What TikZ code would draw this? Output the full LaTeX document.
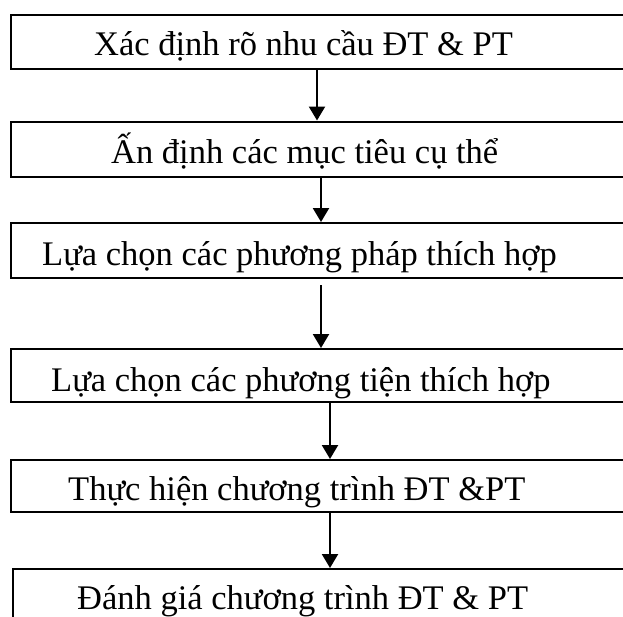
\documentclass[tikz,border=0pt]{standalone}
\usepackage{fontspec}
\setmainfont{Liberation Serif}
\usetikzlibrary{arrows.meta}
\begin{document}
\begin{tikzpicture}[x=1pt,y=-1pt,
  stepbox/.style={draw=black,line width=2pt,rectangle,inner sep=0pt,anchor=north west,minimum width=640pt},
  label/.style={anchor=base west,inner sep=0pt,font=\fontsize{34.5}{40}\selectfont},
  flow/.style={line width=2.2pt,-{Triangle[length=14pt,width=16pt]}}]
\useasboundingbox (0,0) rectangle (623,616);
\clip (0,0) rectangle (623,616);
% boxes of the training procedure
\node[stepbox,minimum height=54pt] (b1) at (9.5,13.5) {};
\node[stepbox,minimum height=55pt] (b2) at (9.5,120.5) {};
\node[stepbox,minimum height=55pt] (b3) at (9.5,222) {};
\node[stepbox,minimum height=53pt] (b4) at (9.5,348) {};
\node[stepbox,minimum height=52pt] (b5) at (9.5,459) {};
\node[stepbox,minimum height=70pt] (b6) at (11.5,568) {};
% step texts
\node[label] (t1) at (94,55) {Xác định rõ nhu cầu ĐT \& PT};
\node[label] (t2) at (111,163) {Ấn định các mục tiêu cụ thể};
\node[label] (t3) at (42,265) {Lựa chọn các phương pháp thích hợp};
\node[label] (t4) at (51,391) {Lựa chọn các phương tiện thích hợp};
\node[label] (t5) at (68,500) {Thực hiện chương trình ĐT \&PT};
\node[label] (t6) at (77,609) {Đánh giá chương trình ĐT \& PT};
% arrow positions
\coordinate (a1) at (317,0);
\coordinate (a2) at (321,0);
\coordinate (a3) at (321,285);
\coordinate (a4) at (330,0);
% connectors
\draw[flow] (b1.south -| a1) -- (b2.north -| a1);
\draw[flow] (b2.south -| a2) -- (b3.north -| a2);
\draw[flow] (a3) -- (b4.north -| a3);
\draw[flow] (b4.south -| a4) -- (b5.north -| a4);
\draw[flow] (b5.south -| a4) -- (b6.north -| a4);
\end{tikzpicture}
\end{document}
